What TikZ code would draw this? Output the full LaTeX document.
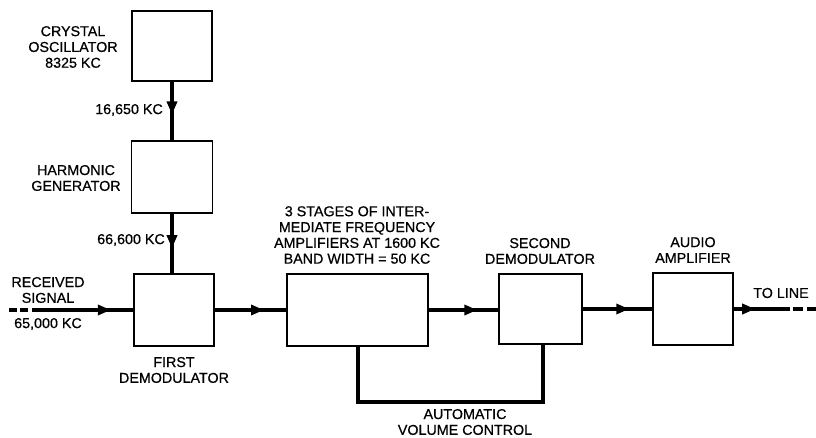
\documentclass[tikz,border=0pt]{standalone}
\usepackage{fontspec}
\setmainfont[FakeBold=0.6]{Liberation Sans}
\usetikzlibrary{arrows.meta,calc}
\begin{document}
\begin{tikzpicture}[x=1pt,y=-1pt,
  blk/.style={draw,line width=1.8pt,minimum width=#1,inner sep=0pt},
  blk/.default=80pt,
  sig/.style={line width=3.2pt},
  arr/.style={line width=3.2pt,-{Triangle[length=13pt,width=10pt]}},
  lbl/.style={font=\fontsize{14.3}{15.8}\selectfont,align=center,inner sep=0pt}]
\useasboundingbox (0,0) rectangle (816,438);
% blocks
\node[blk, minimum height=70pt] (osc) at (172,46) {};
\node[blk, minimum width=81pt, minimum height=72pt] (hg) at (172,177) {};
\node[blk, minimum height=72pt] (fd) at (174,310) {};
\node[blk, minimum width=141pt, minimum height=72pt] (if) at (357.5,310) {};
\node[blk, minimum width=83pt, minimum height=70pt] (sd) at (540.5,309) {};
\node[blk, minimum height=72pt] (aa) at (693,309) {};
% labels
\node[lbl] (tosc) at (73,47) {CRYSTAL\\OSCILLATOR\\8325 KC};
\node[lbl] (thg) at (76,178) {HARMONIC\\GENERATOR};
\node[lbl,anchor=east] (t1) at (163,110) {16,650 KC};
\node[lbl,anchor=east] (t2) at (165,240) {66,600 KC};
\node[lbl] (trs) at (48,290) {RECEIVED\\SIGNAL};
\node[lbl] (tkc) at (48,324) {65,000 KC};
\node[lbl] (tfd) at (174,370) {FIRST\\DEMODULATOR};
\node[lbl] (tif) at (357,235) {3 STAGES OF INTER-\\MEDIATE FREQUENCY\\AMPLIFIERS AT 1600 KC\\BAND WIDTH = 50 KC};
\node[lbl] (tsd) at (540,251) {SECOND\\DEMODULATOR};
\node[lbl] (taa) at (693,250) {AUDIO\\AMPLIFIER};
\node[lbl] (ttl) at (781,293) {TO LINE};
\node[lbl] (tavc) at (465,422) {AUTOMATIC\\VOLUME CONTROL};
% connectors
\coordinate (rin) at (32,310);
\coordinate (rd1) at (9,310);
\coordinate (rd2) at (29,310);
\coordinate (lout) at (790,309);
\coordinate (ld1) at (793,309);
\coordinate (ld2) at (816,309);
\draw[sig] (osc.south) -- (hg.north);
\draw[arr] (osc.south) -- ($(osc.south)!0.56!(hg.north)$);
\draw[sig] (hg.south) -- (hg.south |- fd.north);
\draw[arr] (hg.south) -- ($(hg.south)!0.58!(hg.south |- fd.north)$);
\draw[sig,dash pattern=on 8pt off 3pt] (rd1) -- (rd2);
\draw[sig] (rin) -- (fd.west);
\draw[arr] (rin) -- ($(rin)!0.78!(fd.west)$);
\draw[sig] (fd.east) -- (if.west);
\draw[arr] (fd.east) -- ($(fd.east)!0.69!(if.west)$);
\draw[sig] (if.east) -- (if.east -| sd.west);
\draw[arr] (if.east) -- ($(if.east)!0.7!(if.east -| sd.west)$);
\draw[sig] (sd.east) -- (aa.west);
\draw[arr] (sd.east) -- ($(sd.east)!0.67!(aa.west)$);
\draw[sig] (aa.east) -- (lout);
\draw[arr] (aa.east) -- ($(aa.east)!0.38!(lout)$);
\draw[sig,dash pattern=on 10pt off 4pt] (ld1) -- (ld2);
\coordinate (avcL) at (358,402);
\coordinate (avcR) at (543,402);
\draw[sig] (if.south -| avcL) -- (avcL) -- (avcR) -- (avcR |- sd.south);
\end{tikzpicture}
\end{document}
